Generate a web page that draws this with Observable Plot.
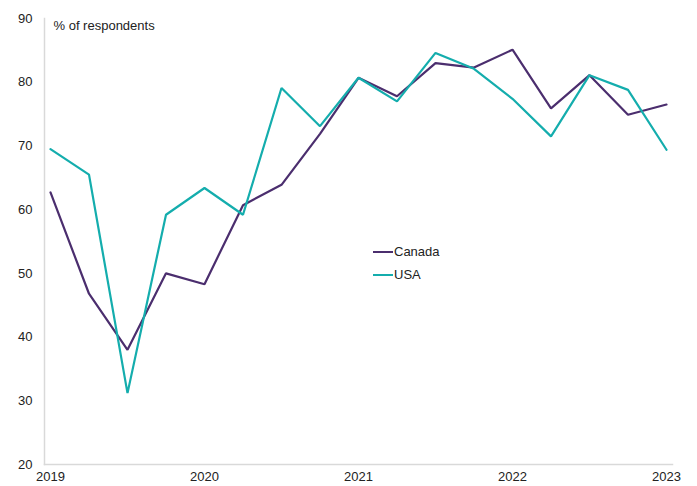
<!DOCTYPE html>
<html>
<head>
<meta charset="utf-8">
<script src="https://cdn.jsdelivr.net/npm/d3@7"></script>
<script src="https://cdn.jsdelivr.net/npm/@observablehq/plot@0.6"></script>
<style>
  html, body { margin: 0; padding: 0; background: #fff; }
  #wrap { position: relative; width: 697px; height: 486px; overflow: hidden; font-family: "Liberation Sans", Arial, sans-serif; }
  #legend { position: absolute; left: 373px; top: 240px; font-size: 13px; color: #222; line-height: 23px; }
  #legend .item { display: flex; align-items: center; }
  #legend .sw { display: inline-block; width: 20px; height: 2px; margin-right: 1px; }
</style>
</head>
<body>
<div id="wrap"></div>
<script>
const quarters = [2019, 2019.25, 2019.5, 2019.75, 2020, 2020.25, 2020.5, 2020.75,
  2021, 2021.25, 2021.5, 2021.75, 2022, 2022.25, 2022.5, 2022.75, 2023];
const canada = [62.7, 46.8, 38.0, 50.0, 48.3, 60.7, 63.9, 71.9, 80.7, 77.8, 83.0, 82.3, 85.1, 75.9, 81.1, 74.9, 76.5];
const usa = [69.5, 65.5, 31.2, 59.2, 63.4, 59.2, 79.1, 73.1, 80.7, 77.0, 84.6, 82.1, 77.4, 71.5, 81.1, 78.8, 69.4];
const seriesNames = ["Canada", "USA"];
const seriesColors = ["#4b2e6e", "#14adad"];
const xTicks = [2019, 2020, 2021, 2022, 2023];
const yTicks = [20, 30, 40, 50, 60, 70, 80, 90];
const yTitle = "% of respondents";

const rows = [];
quarters.forEach((q, i) => {
  rows.push({series: "Canada", x: q, y: canada[i]});
  rows.push({series: "USA", x: q, y: usa[i]});
});

const chart = Plot.plot({
  width: 697,
  height: 486,
  marginLeft: 44,
  marginRight: 25,
  marginTop: 18,
  marginBottom: 22,
  insetLeft: 6,
  insetRight: 6,
  style: {fontFamily: "'Liberation Sans', Arial, sans-serif", fontSize: "13px", color: "#222", background: "#fff"},
  x: {domain: [2019, 2023], ticks: xTicks, tickFormat: d => String(d), tickSize: 0, tickPadding: 7, label: null},
  y: {domain: [20, 90], ticks: yTicks, tickSize: 0, tickPadding: 12, label: null},
  color: {domain: seriesNames, range: seriesColors},
  marks: [
    Plot.frame({anchor: "left", stroke: "#d9d9d9", strokeOpacity: 1, strokeWidth: 1.5}),
    Plot.frame({anchor: "bottom", stroke: "#d9d9d9", strokeOpacity: 1, strokeWidth: 1.5}),
    Plot.line(rows, {x: "x", y: "y", z: "series", stroke: "series", strokeWidth: 2.2, strokeLinejoin: "miter"}),
    Plot.text([yTitle], {frameAnchor: "top-left", text: d => d, dx: 9, dy: 2, lineAnchor: "top", fontSize: 13, fill: "#222"})
  ]
});
const wrap = document.getElementById("wrap");
wrap.appendChild(chart);

const legend = document.createElement("div");
legend.id = "legend";
seriesNames.forEach((n, i) => {
  const it = document.createElement("div");
  it.className = "item";
  const sw = document.createElement("span");
  sw.className = "sw";
  sw.style.background = seriesColors[i];
  const lb = document.createElement("span");
  lb.textContent = n;
  it.appendChild(sw); it.appendChild(lb);
  legend.appendChild(it);
});
wrap.appendChild(legend);
</script>
</body>
</html>
